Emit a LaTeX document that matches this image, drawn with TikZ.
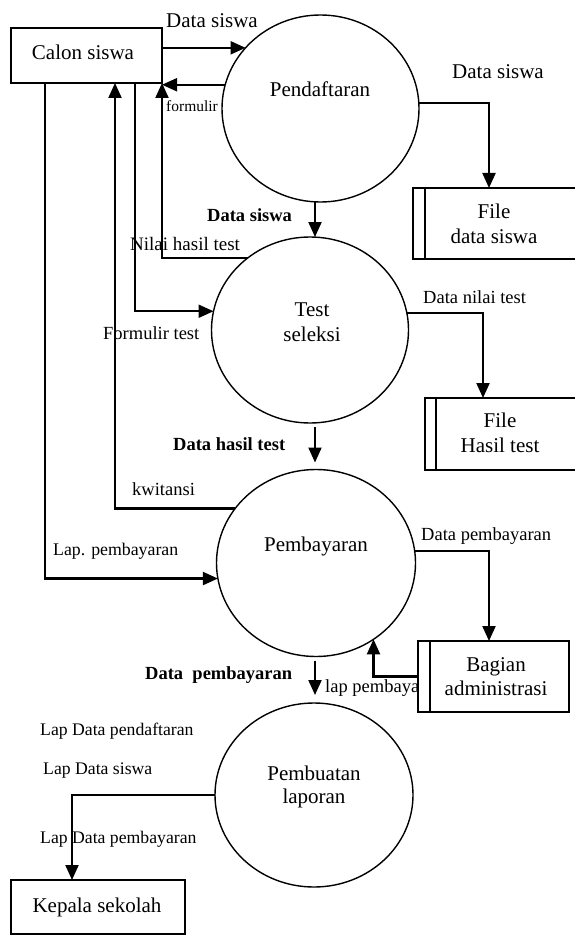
\documentclass[tikz,border=0pt]{standalone}
\usepackage{fontspec}
\setmainfont{Liberation Serif}
\usetikzlibrary{arrows.meta,calc,shapes.geometric}
\begin{document}
\begin{tikzpicture}[x=1pt,y=-1pt,
  proc/.style={draw,ellipse,line width=1.4pt,inner sep=0pt,outer sep=0pt},
  ent/.style={draw,rectangle,line width=1.7pt,inner sep=0pt,outer sep=0pt},
  arr/.style={line width=2.1pt,-{Triangle[length=15pt,width=13pt]}},
  big/.style={anchor=base,inner sep=0pt,font=\fontsize{21}{21}\selectfont},
  lbl/.style={anchor=base west,inner sep=0pt,font=\fontsize{18.5}{19}\selectfont},
  lblb/.style={anchor=base west,inner sep=0pt,font=\fontsize{18.5}{19}\selectfont\bfseries},
  lblbig/.style={anchor=base west,inner sep=0pt,font=\fontsize{21}{21}\selectfont},
  lbls/.style={anchor=base west,inner sep=0pt,font=\fontsize{15.5}{16}\selectfont}]
\useasboundingbox (0,0) rectangle (574,936);

% processes
\node[proc,minimum width=197pt,minimum height=187pt] (pend) at (320.5,108.5) {};
\node[proc,minimum width=197pt,minimum height=186pt] (test) at (310,330) {};
\node[proc,minimum width=199pt,minimum height=187pt] (bayar) at (316,563) {};
\node[proc,minimum width=198pt,minimum height=184pt] (lapor) at (314,795) {};

% entities and stores
\node[ent,minimum width=151pt,minimum height=55pt] (calon) at (86.5,55.5) {};
\node[ent,minimum width=174pt,minimum height=54pt] (kepala) at (98,907) {};
\node[ent,minimum width=167pt,minimum height=71pt] (filedata) at (496.5,223.5) {};
\node[ent,minimum width=155pt,minimum height=72pt] (filehasil) at (502.5,434) {};
\node[ent,minimum width=151pt,minimum height=71pt] (bagian) at (493.5,676.5) {};
\draw[line width=1.7pt] ($(filedata.north west)+(12,0)$) -- ($(filedata.south west)+(12,0)$);
\draw[line width=1.7pt] ($(filehasil.north west)+(11,0)$) -- ($(filehasil.south west)+(11,0)$);
\draw[line width=1.7pt] ($(bagian.north west)+(12,0)$) -- ($(bagian.south west)+(12,0)$);

% node texts
\node[big] (tcalon) at (83,59.3) {Calon siswa};
\node[big] (tpend) at (320,96.7) {Pendaftaran};
\node[big] (ttest1) at (312,316.7) {Test};
\node[big] (ttest2) at (312,341.7) {seleksi};
\node[big] (tbayar) at (316,551.7) {Pembayaran};
\node[big] (tlapor1) at (314,780.7) {Pembuatan};
\node[big] (tlapor2) at (314,803) {laporan};
\node[big] (tfd1) at (494,218) {File};
\node[big] (tfd2) at (494,243) {data siswa};
\node[big] (tfh1) at (500,427) {File};
\node[big] (tfh2) at (500,452.7) {Hasil test};
\node[big] (tbag1) at (496,671.7) {Bagian};
\node[big] (tbag2) at (496,695) {administrasi};
\node[big] (tkep) at (97,912) {Kepala sekolah};

% connectors
\draw[arr] (calon.east |- pend.141.9) -- (pend.141.9);
\draw[arr] (pend.166.8) -- (calon.east |- pend.166.8);
\draw[arr] (pend.3.2) -| ($(filedata.north)+(-7.5,0)$);
\draw[arr] ($(pend.south)+(-5.5,0)$) -- ($(test.north)+(5,0)$);
\draw[arr] (test.131.9) -| (calon.south east);
\draw[arr] ($(calon.south)+(48.5,0)$) |- (test.169.4);
\draw[arr] (test.10.6) -| ($(filehasil.north)+(-19.5,0)$);
\draw[arr] ($(test.south)+(5,4)$) -- ($(bayar.north)+(-1,-7)$);
\draw[arr] (bayar.146.3) -| ($(calon.south)+(28.5,0)$);
\draw[arr] ($(calon.south)+(-41.5,0)$) |- (bayar.189.3);
\draw[arr] (bayar.7.5) -| ($(bagian.north)+(-4.5,0)$);
\draw[arr] (bagian.west) -| (bayar.-53.2);
\draw[arr] ($(bayar.south)+(-1,4)$) -- ($(lapor.north)+(1,-8)$);
\draw[arr] (lapor.west) -| ($(kepala.north)+(-26,0)$);

% labels
\node[lblbig] (l1) at (166,27.3) {Data siswa};
\node[lbls] (l2) at (166,111.7) {formulir};
\node[lbl,font=\fontsize{19}{19}\selectfont] (l3) at (130,250) {Nilai hasil test};
\node[lblb] (l4) at (207,221.7) {Data siswa};
\node[lbl] (l5) at (103,339) {Formulir test};
\node[lblb] (l6) at (173,450) {Data hasil test};
\node[lbl] (l7) at (132,495.7) {kwitansi};
\node[lbl,font=\fontsize{17.8}{18}\selectfont] (l8) at (53,555.7) {Lap. pembayaran};
\node[lblb] (l9) at (145,679) {Data\ \ pembayaran};
\node[lbl,font=\fontsize{17.7}{18}\selectfont] (l10) at (40,735) {Lap Data pendaftaran};
\node[lbl,font=\fontsize{17.7}{18}\selectfont] (l11) at (43,774) {Lap Data siswa};
\node[lbl,font=\fontsize{17.7}{18}\selectfont] (l12) at (40,843) {Lap Data pembayaran};
\node[lblbig] (l13) at (452,79) {Data siswa};
\node[lbl] (l14) at (423,303) {Data nilai test};
\node[lbl] (l15) at (421,540) {Data pembayaran};
\node[lbl] (l16) at (325,692) {lap pembaya};
\end{tikzpicture}
\end{document}
